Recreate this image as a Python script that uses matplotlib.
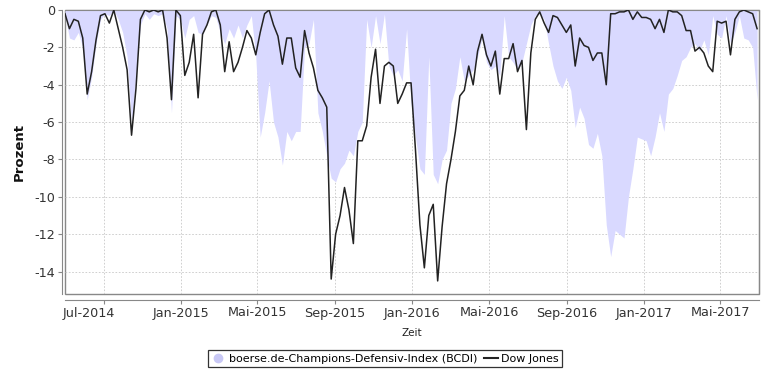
import numpy as np
import pandas as pd
import matplotlib
matplotlib.use("Agg")
import matplotlib.pyplot as plt
import matplotlib.transforms as mtransforms
from matplotlib.lines import Line2D

dow_jones = [
    -0.2, -1.0, -0.5, -0.6, -1.5, -4.5, -3.3, -1.6, -0.3, -0.2,
    -0.7, 0.0, -1.0, -2.0, -3.2, -6.7, -4.2, -0.5, 0.0, -0.1,
    0.0, -0.1, 0.0, -1.5, -4.8, 0.0, -0.3, -3.5, -2.8, -1.3,
    -4.7, -1.3, -0.8, -0.1, 0.0, -0.8, -3.3, -1.7, -3.3, -2.8,
    -2.0, -1.1, -1.5, -2.4, -1.2, -0.2, 0.0, -0.8, -1.4, -2.9,
    -1.5, -1.5, -3.1, -3.6, -1.1, -2.3, -3.1, -4.3, -4.7, -5.2,
    -14.4, -12.0, -11.0, -9.5, -10.7, -12.5, -7.0, -7.0, -6.2, -3.6,
    -2.1, -5.0, -3.0, -2.8, -3.0, -5.0, -4.5, -3.9, -3.9, -7.5,
    -11.5, -13.8, -11.0, -10.4, -14.5, -11.6, -9.3, -8.0, -6.5, -4.6,
    -4.3, -3.0, -4.0, -2.2, -1.3, -2.4, -3.0, -2.2, -4.5, -2.6,
    -2.6, -1.8, -3.3, -2.7, -6.4, -2.3, -0.5, -0.1, -0.7, -1.2,
    -0.3, -0.4, -0.8, -1.2, -0.8, -3.0, -1.5, -1.9, -2.0, -2.7,
    -2.3, -2.3, -4.0, -0.2, -0.2, -0.1, -0.1, 0.0, -0.5, -0.1,
    -0.4, -0.4, -0.5, -1.0, -0.5, -1.2, 0.0, -0.1, -0.1, -0.3,
    -1.1, -1.1, -2.2, -2.0, -2.3, -3.0, -3.3, -0.6, -0.7, -0.6,
    -2.4, -0.5, -0.1, 0.0, -0.1, -0.2, -1.0,
]

bcdi = [
    -0.3, -1.5, -1.6, -1.2, -2.0, -4.8, -3.6, -1.8, -0.5, -0.2,
    -0.3, 0.0, -0.5, -1.2, -2.5, -6.0, -3.5, -0.8, -0.2, -0.5,
    -0.2, -0.3, -0.2, -1.0, -5.5, -0.3, -0.5, -1.5, -0.5, -0.3,
    -1.2, -1.3, -0.8, -0.3, -0.4, -1.2, -1.8, -1.0, -1.5, -0.8,
    -1.5, -0.8, -0.3, -2.5, -6.8, -5.5, -3.8, -6.0, -6.8, -8.3,
    -6.5, -7.0, -6.5, -6.5, -2.0, -1.8, -0.5, -5.5, -6.5, -7.8,
    -9.0, -9.2, -8.5, -8.2, -7.5, -7.8, -6.5, -6.0, -0.5, -2.0,
    -0.3, -1.8, -0.2, -3.0, -3.5, -3.2, -3.8, -1.0, -5.0, -6.8,
    -8.5, -8.8, -2.5, -8.8, -9.3, -8.0, -7.5, -5.0, -4.2, -2.5,
    -3.8, -3.5, -3.2, -2.5, -1.5, -2.8, -3.2, -3.0, -3.5, -0.3,
    -2.5, -2.8, -3.2, -2.8, -1.8, -0.8, -0.3, -0.2, -0.5, -1.8,
    -3.0, -3.8, -4.2, -3.6, -4.3, -6.3, -5.2, -5.8, -7.2, -7.4,
    -6.6, -7.8, -11.5, -13.2, -11.8, -12.0, -12.2, -10.0, -8.5, -6.8,
    -6.9, -7.0, -7.8, -6.8, -5.5, -6.5, -4.5, -4.2, -3.5, -2.7,
    -2.5, -2.0, -1.8, -2.2, -1.6, -2.4, -0.3, -1.3, -1.5, -0.3,
    -1.8, -1.2, -0.3, -1.5, -1.6, -2.0, -4.8,
]

tick_dates = ["2014-09-01", "2015-01-01", "2015-05-01", "2015-09-01", "2016-01-01",
              "2016-05-01", "2016-09-01", "2017-01-01", "2017-05-01"]
tick_labels = ["Jul-2014", "Jan-2015", "Mai-2015", "Sep-2015", "Jan-2016",
               "Mai-2016", "Sep-2016", "Jan-2017", "Mai-2017"]
y_ticks = [0, -2, -4, -6, -8, -10, -12, -14]

dates = pd.date_range("2014-07-02", periods=len(dow_jones), freq="7D")

AREA_COLOR = "#d9d9ff"
LINE_COLOR = "#222222"
GRID_COLOR = "#c8c8c8"
AXIS_COLOR = "#888888"

fig = plt.figure(figsize=(7.7, 3.71), dpi=100)
ax = fig.add_axes([65 / 770, 1 - 294 / 371, (759 - 65) / 770, (294 - 10) / 371])

ax.fill_between(dates, bcdi, 0, color=AREA_COLOR, linewidth=0, zorder=1)
ax.plot(dates, dow_jones, color=LINE_COLOR, linewidth=1.1, zorder=3)

ax.set_xlim(dates[0], dates[-1] + pd.Timedelta(days=3))
ax.set_ylim(-15.2, 0)

ax.set_xticks(pd.to_datetime(tick_dates))
ax.set_xticklabels(tick_labels)
ax.set_yticks(y_ticks)
ax.set_yticklabels([str(v) for v in y_ticks])

ax.grid(True, color=GRID_COLOR, linestyle=(0, (2, 2)), linewidth=0.6, zorder=0)
ax.set_axisbelow(True)

# Rahmen um den Datenbereich + abgesetzte Achsen wie im Original
for side in ["top", "right"]:
    ax.spines[side].set_color(AXIS_COLOR)
ax.spines["left"].set_color(AXIS_COLOR)
ax.spines["left"].set_position(("outward", 2))
ax.spines["bottom"].set_color(AXIS_COLOR)
ax.spines["bottom"].set_position(("outward", 4))
ax.patch.set_edgecolor(AXIS_COLOR)
ax.patch.set_linewidth(1.0)

ax.tick_params(axis="both", colors=AXIS_COLOR, labelcolor="#333333",
               labelsize=9.2, length=3, width=0.8, direction="out")
ax.tick_params(axis="x", pad=2)
ax.tick_params(axis="y", pad=2)

# erste Beschriftung sitzt im Original links vom Tick
lbl = ax.get_xticklabels()[0]
lbl.set_transform(lbl.get_transform() +
                  mtransforms.ScaledTranslation(-15 / 100, 0, fig.dpi_scale_trans))

ax.set_ylabel("Prozent", fontsize=9.5, fontweight="bold", color="#111111", labelpad=6)
ax.set_xlabel("Zeit", fontsize=7.5, color="#222222", labelpad=6)

handles = [
    Line2D([], [], marker="o", linestyle="none", markersize=6,
           markerfacecolor="#c8c8f5", markeredgecolor="#c8c8f5"),
    Line2D([], [], color=LINE_COLOR, linewidth=1.5),
]
leg = fig.legend(handles, ["boerse.de-Champions-Defensiv-Index (BCDI)", "Dow Jones"],
                 loc="lower center", bbox_to_anchor=(0.5, 0.005), ncol=2,
                 frameon=True, fancybox=False, fontsize=8, handlelength=1.3,
                 handletextpad=0.3, columnspacing=0.6, borderpad=0.3,
                 borderaxespad=0.2)
leg.get_frame().set_edgecolor("black")
leg.get_frame().set_linewidth(0.9)

fig.savefig("out.png", dpi=100)
